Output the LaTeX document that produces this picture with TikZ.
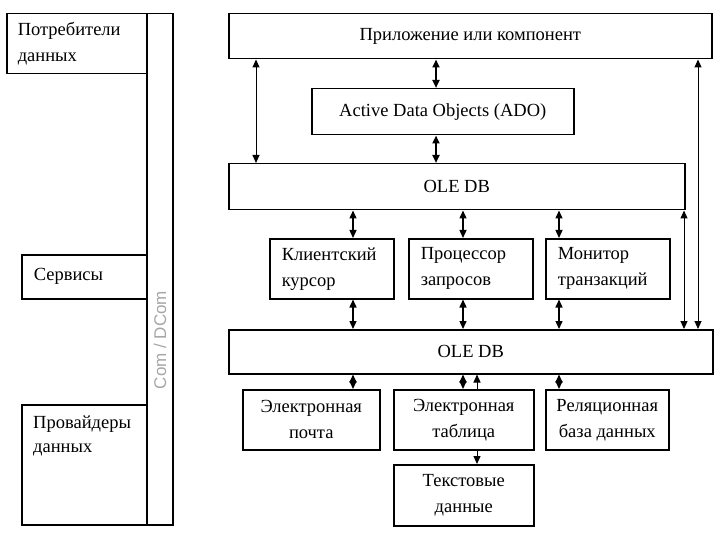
\documentclass[tikz,border=0pt]{standalone}
\usepackage{fontspec}
\setmainfont{Liberation Serif}
\newfontfamily\sansf{Liberation Sans}
\usetikzlibrary{arrows.meta}
\tikzset{
  box/.style={draw, line width=1.5pt, rectangle, anchor=north west, inner sep=0pt, font=\fontsize{18.5}{26}\selectfont, align=center},
  lbox/.style={box, align=left},
  conn/.style={{Triangle[length=8pt,width=7pt]}-{Triangle[length=8pt,width=7pt]}, line width=1pt},
  connm/.style={conn, line width=1.4pt},
  connt/.style={conn, line width=2pt},
  half/.style={-{Triangle[length=8pt,width=7pt]}, line width=1pt},
}
\begin{document}
\begin{tikzpicture}[x=1pt,y=-1pt]
\useasboundingbox (0,0) rectangle (720,540);
% left column
\node[lbox, minimum height=60pt, text width=118pt, inner xsep=11pt] (cons) at (6,13) {Потребители\\данных};
\node[box, minimum width=26pt, minimum height=511pt] (strip) at (146,13) {};
\node[text=black!35, font=\sansf\fontsize{17}{20}\selectfont, rotate=90] (comlbl) at (160,340) {Com / DCom};
\node[lbox, minimum height=44pt, text width=101pt, inner xsep=12pt] (serv) at (21,254) {Сервисы};
\node[box, minimum width=125pt, minimum height=120pt] (prov) at (21,404) {};
\node[anchor=north west, inner sep=0pt, align=left, font=\fontsize{18.5}{24}\selectfont] (provt) at (33,416) {Провайдеры\\данных};
% right part
\node[box, minimum width=483pt, minimum height=45pt] (app) at (228,13) {Приложение или компонент};
\node[box, minimum width=262pt, minimum height=46pt] (ado) at (311,88) {Active Data Objects (ADO)};
\node[box, minimum width=456pt, minimum height=46pt] (ole1) at (228,163) {OLE DB};
\node[lbox, minimum height=60pt, text width=100pt, inner xsep=12pt] (cur) at (269,238) {Клиентский\\курсор};
\node[lbox, minimum height=60pt, text width=100pt, inner xsep=12pt] (proc) at (408,238) {Процессор\\запросов};
\node[lbox, minimum height=60pt, text width=100pt, inner xsep=12pt] (mon) at (545,238) {Монитор\\транзакций};
\node[box, minimum width=484pt, minimum height=44pt] (ole2) at (228,329) {OLE DB};
\node[box, minimum width=137pt, minimum height=60pt] (mail) at (242,389) {Электронная\\почта};
\node[box, minimum width=140pt, minimum height=60pt] (sheet) at (393,389) {Электронная\\таблица};
\node[box, minimum width=123pt, minimum height=60pt] (rel) at (545,389) {Реляционная\\база данных};
\node[box, minimum width=140pt, minimum height=61pt] (txt) at (393,464) {Текстовые\\данные};
% x positions of connectors
\coordinate (xA) at (256,0);
\coordinate (xB) at (436,0);
\coordinate (xC) at (698,0);
\coordinate (xD) at (684,0);
\coordinate (x1) at (353,0);
\coordinate (x2) at (463,0);
\coordinate (x3) at (559,0);
\coordinate (x4) at (477,0);
% connectors
\draw[conn] (app.south -| xA) -- (ole1.north -| xA);
\draw[connt] (app.south -| xB) -- (ado.north -| xB);
\draw[connt] (ado.south -| xB) -- (ole1.north -| xB);
\draw[conn] (app.south -| xC) -- (ole2.north -| xC);
\draw[conn] (ole1.south -| xD) -- (ole2.north -| xD);
\draw[connm] (ole1.south -| x1) -- (cur.north -| x1);
\draw[connm] (ole1.south -| x2) -- (proc.north -| x2);
\draw[connm] (ole1.south -| x3) -- (mon.north -| x3);
\draw[connm] (cur.south -| x1) -- (ole2.north -| x1);
\draw[connm] (proc.south -| x2) -- (ole2.north -| x2);
\draw[connm] (mon.south -| x3) -- (ole2.north -| x3);
\draw[connm] (ole2.south -| x1) -- (mail.north -| x1);
\draw[connm] (ole2.south -| x2) -- (sheet.north -| x2);
\draw[half] (sheet.north -| x4) -- (ole2.south -| x4);
\draw[half] (sheet.south -| x4) -- (txt.north -| x4);
\draw[connm] (ole2.south -| x3) -- (rel.north -| x3);
\end{tikzpicture}
\end{document}
